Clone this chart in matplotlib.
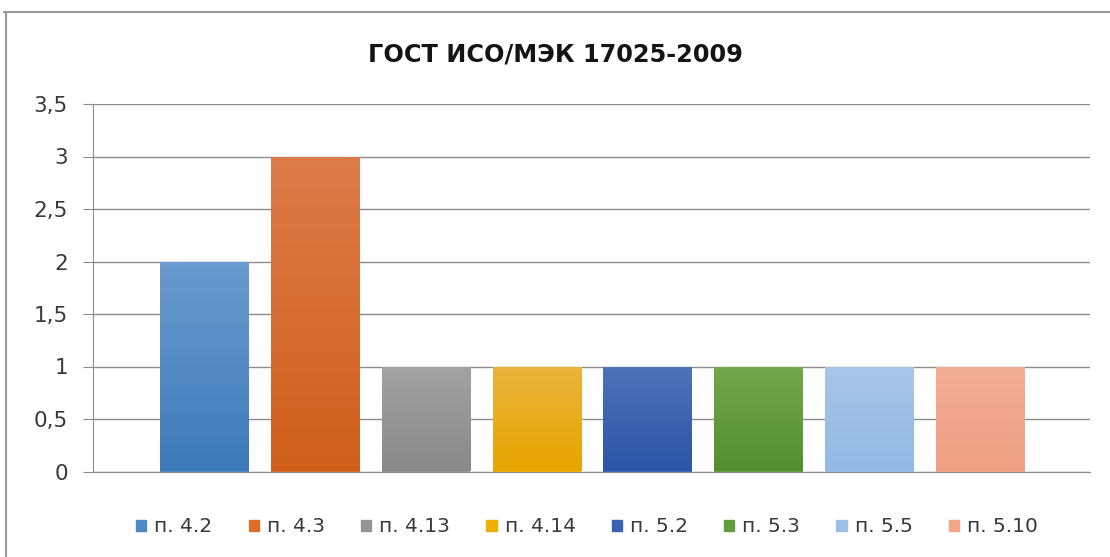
import numpy as np
import matplotlib.pyplot as plt
from matplotlib.colors import LinearSegmentedColormap
from matplotlib.patches import Patch
from matplotlib.lines import Line2D

title = 'ГОСТ ИСО/МЭК 17025-2009'
labels = ['п. 4.2', 'п. 4.3', 'п. 4.13', 'п. 4.14', 'п. 5.2', 'п. 5.3', 'п. 5.5', 'п. 5.10']
values = [2, 3, 1, 1, 1, 1, 1, 1]
y_ticks = [0, 0.5, 1, 1.5, 2, 2.5, 3, 3.5]

# gradient colours: top of bar, bottom of bar, legend swatch
top_colors = ['#6b9bcf', '#dc7c4a', '#a3a3a3', '#e9b43c', '#5072b9', '#74a84e', '#a8c5e8', '#f2ae94']
bottom_colors = ['#3d7ab9', '#cf5f1b', '#898989', '#e7a500', '#2b55a6', '#538f2e', '#93b9e3', '#eea084']
legend_colors = ['#4f88c6', '#dd6d2a', '#959595', '#efb006', '#3a62b2', '#629d3b', '#9dc0e6', '#f3a78a']

plt.rcParams['font.family'] = ['DejaVu Sans']

fig = plt.figure(figsize=(11.1, 5.57), dpi=100)
ax = fig.add_axes([93 / 1110, 1 - 471.5 / 557, 997 / 1110, 367.5 / 557])

x = np.arange(len(labels))
bars = ax.bar(x, values, width=0.8, color=legend_colors, zorder=2)

# Excel-style vertical gradient inside each bar
grad = np.linspace(0, 1, 256).reshape(-1, 1)
for b, c_top, c_bot in zip(bars, top_colors, bottom_colors):
    cmap = LinearSegmentedColormap.from_list('g', [c_bot, c_top])
    x0 = b.get_x()
    im = ax.imshow(grad, cmap=cmap, origin='lower', aspect='auto', zorder=3,
                   extent=[x0, x0 + b.get_width(), 0, b.get_height()])
    im.set_clip_path(b)

ax.set_xlim(-1.006, 7.99)
ax.set_ylim(0, 3.5)
ax.set_yticks(y_ticks)
ax.set_yticklabels([f'{t:g}'.replace('.', ',') for t in y_ticks], fontsize=15.5, color='#3a3a3a')
ax.set_xticks([])
ax.yaxis.grid(True, color='#8c8c8c', lw=1, zorder=0)
ax.set_axisbelow(True)
ax.tick_params(axis='y', length=7, color='#8c8c8c', pad=11)
for s in ['top', 'right']:
    ax.spines[s].set_visible(False)
for s in ['left', 'bottom']:
    ax.spines[s].set_color('#8c8c8c')

fig.text(0.5, 1 - 55 / 557, title, ha='center', va='center',
         fontsize=17.3, fontweight='bold', color='#141414')

handles = [Patch(color=c) for c in legend_colors]
fig.legend(handles, labels, loc='center', bbox_to_anchor=(587 / 1110, 1 - 527 / 557),
           ncol=8, frameon=False, fontsize=14.5, handlelength=0.5, handleheight=0.5,
           handletextpad=0.4, columnspacing=1.8, labelcolor='#3a3a3a')

# chart frame (only top and left visible in the screenshot)
fig.add_artist(Line2D([4 / 1110, 1], [1 - 11.5 / 557] * 2, transform=fig.transFigure,
                      color='#9a9a9a', lw=1.5))
fig.add_artist(Line2D([5.5 / 1110] * 2, [0, 1 - 11.5 / 557], transform=fig.transFigure,
                      color='#9a9a9a', lw=1.5))

fig.savefig('out.png', dpi=100)
